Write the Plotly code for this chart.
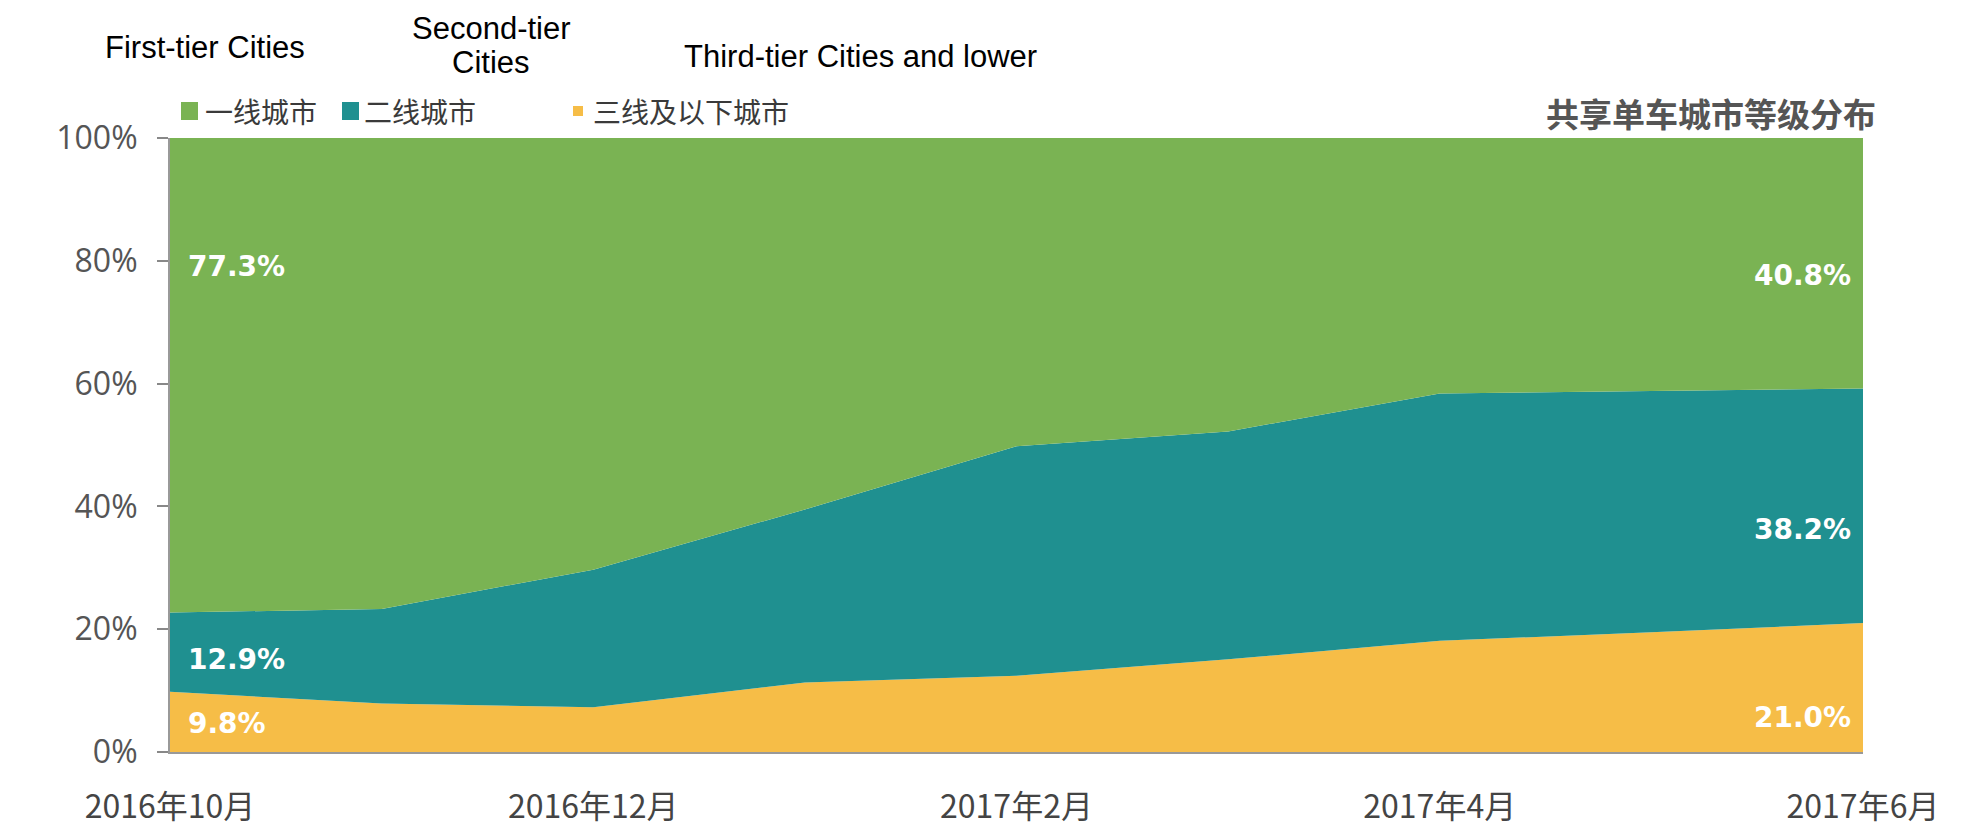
import plotly.graph_objects as go

months = ["2016年10月", "2016年11月", "2016年12月", "2017年1月", "2017年2月",
          "2017年3月", "2017年4月", "2017年5月", "2017年6月"]
tick_labels = ["2016年10月", "2016年12月", "2017年2月", "2017年4月", "2017年6月"]

third_tier = [9.8, 7.9, 7.3, 11.3, 12.4, 15.1, 18.1, 19.5, 21.0]
second_tier = [12.9, 15.4, 22.4, 28.2, 37.4, 37.1, 40.3, 39.3, 38.2]
first_tier = [77.3, 76.7, 70.3, 60.5, 50.2, 47.8, 41.6, 41.2, 40.8]

series_names = ["一线城市", "二线城市", "三线及以下城市"]
english_names = ["First-tier Cities", "Second-tier<br>Cities", "Third-tier Cities and lower"]
colors = {"一线城市": "#7AB353", "二线城市": "#1F9090", "三线及以下城市": "#F6BD47"}
title_text = "共享单车城市等级分布"

CJK = "Noto Sans CJK SC"
OFF = 8  # page body margin

W, H = 1988, 824
L, R, T, B = 170 - OFF, W - (1863 - OFF), 138 - OFF, H - (752 - OFF)
pw, ph = W - L - R, H - T - B


def px_x(px):  # page pixel -> paper x
    return (px - OFF - L) / pw


def px_y(py):  # page pixel -> paper y
    return (H - B - (py - OFF)) / ph


fig = go.Figure()
for name, vals in [("三线及以下城市", third_tier), ("二线城市", second_tier), ("一线城市", first_tier)]:
    fig.add_trace(go.Scatter(
        x=months, y=vals, name=name, stackgroup="one", mode="none",
        fillcolor=colors[name], line=dict(width=0), hoverinfo="x+y+name",
    ))

# value labels (first and last month)
lab_font = dict(family="DejaVu Sans", size=28, color="white")
label_specs = [
    (months[0], 79.0, first_tier[0], "left"),
    (months[0], 15.1, second_tier[0], "left"),
    (months[0], 4.6, third_tier[0], "left"),
    (months[-1], 77.6, first_tier[-1], "right"),
    (months[-1], 36.2, second_tier[-1], "right"),
    (months[-1], 5.6, third_tier[-1], "right"),
]
for xv, yv, val, anc in label_specs:
    fig.add_annotation(x=xv, y=yv, xref="x", yref="y", text=f"<b>{val:.1f}%</b>",
                       showarrow=False, xanchor=anc, yanchor="middle",
                       xshift=16 if anc == "left" else -10, font=lab_font)

# custom legend (page pixel positions: square x0, x1, half-height, text start)
leg_specs = [
    ("一线城市", 181, 198, 9, 205),
    ("二线城市", 342, 359, 9, 364),
    ("三线及以下城市", 573, 583, 5, 593),
]
leg_y = 111
for name, x0, x1, hh, tx in leg_specs:
    fig.add_shape(type="rect", xref="paper", yref="paper",
                  x0=px_x(x0), x1=px_x(x1),
                  y0=px_y(leg_y + hh), y1=px_y(leg_y - hh),
                  fillcolor=colors[name], line=dict(width=0))
    fig.add_annotation(x=px_x(tx), y=px_y(leg_y), xref="paper", yref="paper",
                       text=name, showarrow=False, xanchor="left", yanchor="middle",
                       xshift=-2, font=dict(family=CJK, size=28, color="#3a3a3a"))

# English labels above the legend
eng_pos = [(205, [48]), (491, [29, 63]), (860, [57])]
eng_font = dict(family="Liberation Sans", size=31, color="black")
for txt, (ex, eys) in zip(english_names, eng_pos):
    for line, ey in zip(txt.split("<br>"), eys):
        fig.add_annotation(x=px_x(ex), y=px_y(ey), xref="paper", yref="paper",
                           text=line, showarrow=False, xanchor="center", yanchor="middle",
                           font=eng_font)

# chart title on the right
fig.add_annotation(x=px_x(1878), y=px_y(113), xref="paper", yref="paper",
                   text=f"<b>{title_text}</b>", showarrow=False, xanchor="right", yanchor="middle",
                   font=dict(family=CJK, size=33, color="#555555"))

fig.update_layout(
    width=W, height=H,
    margin=dict(l=L, r=R, t=T, b=B, pad=0, autoexpand=False),
    paper_bgcolor="white", plot_bgcolor="white",
    showlegend=False,
    xaxis=dict(
        type="category", range=[0, len(months) - 1],
        tickmode="array", tickvals=tick_labels, ticktext=tick_labels,
        showgrid=False, zeroline=False,
        showline=True, linecolor="#999999", linewidth=2,
        ticks="", ticklen=0, ticklabelstandoff=26,
        tickfont=dict(family=CJK, size=32, color="#444444"),
        automargin=False,
    ),
    yaxis=dict(
        range=[0, 100], tickvals=[0, 20, 40, 60, 80, 100],
        ticktext=["0%", "20%", "40%", "60%", "80%", "100%"],
        showgrid=False, zeroline=False,
        showline=True, linecolor="#999999", linewidth=2,
        ticks="outside", ticklen=11, tickcolor="#888888", tickwidth=1.5,
        ticklabelstandoff=13,
        tickfont=dict(family="Open Sans", size=32, color="#555555"),
        automargin=False,
    ),
)

fig.write_html("out.html")
